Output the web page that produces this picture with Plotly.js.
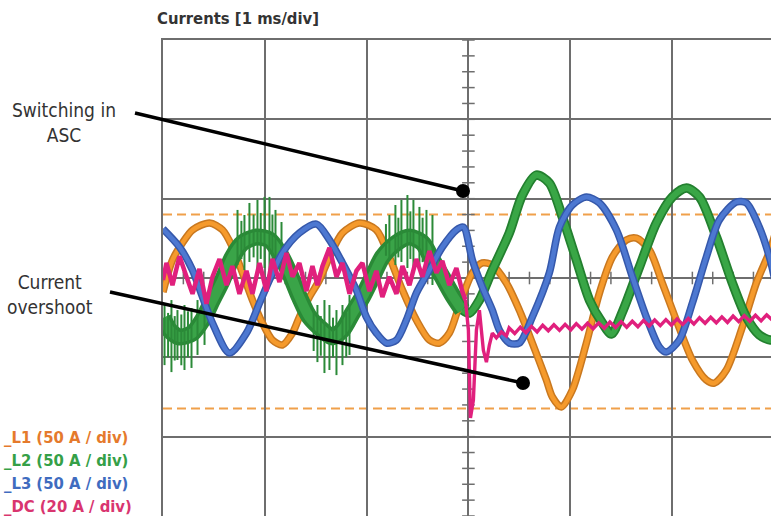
<!DOCTYPE html>
<html>
<head>
<meta charset="utf-8">
<script src="https://cdn.plot.ly/plotly-3.0.1.min.js"></script>
<style>html,body{margin:0;padding:0;background:#fff;}#chart{width:771px;height:516px;}</style>
</head>
<body>
<div id="chart"></div>
<script>
// ---- Data (time in ms, phase currents in A at 50 A/div, DC current in A at 20 A/div)
const blueT = [0.000,0.162,0.290,0.388,0.486,0.653,0.820,0.948,1.046,1.173,1.340,1.507,1.635,1.763,1.900,1.998,2.096,2.195,2.293,2.391,2.489,2.617,2.744,2.882,2.951,3.039,3.137,3.235,3.304,3.402,3.500,3.628,3.795,3.894,4.021,4.159,4.287,4.454,4.611,4.748,4.876,4.944,5.072,5.200,5.337,5.465,5.632,5.730,5.857,5.965,6.010];
const blueA = [30.9,19.5,5.0,-12.0,-28.4,-47.3,-34.7,-15.8,-1.3,15.8,28.4,34.0,24.0,9.5,-7.6,-24.6,-34.7,-41.0,-39.1,-26.5,-9.5,5.0,19.5,30.3,32.1,11.3,-5.7,-20.2,-32.8,-41.0,-41.0,-24.6,3.2,32.1,46.0,51.0,47.3,30.3,0.6,-24.6,-43.5,-46.6,-39.1,-15.8,13.2,36.6,47.9,47.3,32.1,11.3,-1.3];

const orangeT = [0.000,0.093,0.191,0.290,0.457,0.584,0.682,0.781,0.879,0.977,1.075,1.173,1.272,1.340,1.438,1.537,1.635,1.763,1.930,2.096,2.224,2.352,2.489,2.617,2.715,2.813,2.912,3.039,3.137,3.235,3.373,3.500,3.628,3.766,3.825,3.913,4.021,4.159,4.287,4.414,4.552,4.650,4.778,4.905,5.042,5.200,5.337,5.416,5.534,5.691,5.828,5.965,6.010];
const orangeA = [-8.8,11.3,22.1,30.3,34.7,30.3,19.5,3.2,-13.9,-28.4,-39.1,-42.2,-34.7,-24.6,-12.0,-1.3,13.2,28.4,34.7,30.3,13.2,-7.6,-26.5,-39.1,-41.0,-34.7,-17.0,3.2,9.5,8.2,-3.2,-20.2,-41.0,-64.3,-75.0,-81.3,-70.6,-41.0,-9.5,13.2,24.0,25.2,17.7,-3.2,-26.5,-51.7,-64.3,-66.2,-58.0,-30.9,-3.2,17.7,27.1];

const greenT = [0.000,0.064,0.162,0.290,0.388,0.486,0.584,0.682,0.781,0.918,1.046,1.144,1.242,1.340,1.438,1.566,1.664,1.763,1.861,1.959,2.057,2.155,2.293,2.421,2.548,2.647,2.744,2.843,2.941,3.010,3.108,3.235,3.402,3.530,3.667,3.795,3.923,4.061,4.189,4.316,4.405,4.513,4.680,4.847,5.004,5.142,5.270,5.436,5.593,5.730,5.857,5.965,6.020];
const greenA = [-25.2,-32.8,-37.2,-34.7,-26.5,-13.9,-1.3,13.2,22.1,25.8,24.0,15.8,3.2,-12.0,-24.6,-32.8,-37.2,-32.8,-22.1,-12.0,0.6,13.2,22.1,25.8,22.1,11.3,0.6,-10.7,-20.2,-22.1,-13.9,5.0,28.4,52.3,64.9,59.9,38.5,11.3,-13.9,-28.4,-35.3,-21.4,6.9,34.7,51.1,56.7,51.1,25.8,-3.2,-24.6,-35.9,-39.1,-38.0];

// switching-noise spikes on the green phase before ASC
const spikeT  = [0.015,0.050,0.083,0.115,0.142,0.180,0.211,0.245,0.280,0.339,0.408, 0.732,0.770,0.800,0.849,0.890,0.928,0.960,0.997,1.046,1.075,1.105,1.164, 1.480,1.517,1.550,1.586,1.635,1.670,1.704,1.763,1.800,1.832, 2.190,2.224,2.283,2.312,2.342,2.401,2.430,2.460,2.519,2.550,2.588,2.647];
const spikeHi = [-17.0,-22.0,-13.9,-24.0,-20.2,-23.0,-17.0,-21.0,-18.9,-13.9,-7.6, 42.9,36.0,39.7,47.3,40.0,49.2,41.0,51.1,51.1,40.0,42.9,35.3, -20.0,-17.0,-24.0,-13.9,-17.0,-25.0,-20.2,-17.0,-22.0,-10.7, 34.0,39.7,46.0,38.0,49.2,52.3,42.0,49.2,44.8,38.0,42.9,39.7];
const spikeLo = [-54.9,-50.0,-59.3,-52.0,-51.7,-55.0,-58.0,-50.0,-56.7,-48.5,-42.2, 8.2,12.0,5.0,10.1,13.0,5.0,12.0,6.3,1.9,10.0,5.0,-1.3, -46.0,-53.0,-49.0,-59.9,-58.0,-50.0,-61.2,-54.9,-50.0,-48.5, 14.0,11.3,8.2,13.0,10.1,6.3,12.0,5.0,6.3,10.0,1.9,-4.4];

const pinkT = [0.000,0.034,0.093,0.162,0.231,0.290,0.358,0.427,0.486,0.555,0.624,0.682,0.751,0.820,0.879,0.948,1.016,1.075,1.144,1.213,1.272,1.340,1.409,1.468,1.517,1.566,1.635,1.704,1.763,1.832,1.900,1.959,2.028,2.096,2.155,2.224,2.293,2.352,2.421,2.489,2.548,2.617,2.686,2.744,2.813,2.882,2.941,2.971,3.000,3.020,3.049,3.079,3.108,3.147,3.177,3.206,3.235,3.275,3.324,3.373,
  3.400,3.455,3.510,3.565,3.620,3.675,3.730,3.785,3.840,3.895,3.950,4.005,4.060,4.115,4.170,4.225,4.280,4.335,4.390,4.445,4.500,4.555,4.610,4.665,4.720,4.775,4.830,4.885,4.940,4.995,5.050,5.105,5.160,5.215,5.270,5.325,5.380,5.435,5.490,5.545,5.600,5.655,5.710,5.765,5.820,5.875,5.930,5.985,6.040];
const pinkA = [-0.5,3.8,-1.8,5.5,0.3,-4.0,2.3,-6.5,0.3,4.8,-1.8,3.0,-4.0,1.8,-4.0,3.8,-3.3,4.8,-1.0,6.3,0.3,3.8,-3.3,3.0,-1.8,3.0,7.6,0.3,3.8,-4.0,1.8,3.8,-3.3,1.8,-4.8,0.3,-4.0,3.0,-1.8,4.8,0.3,6.8,1.3,4.3,-1.8,2.5,-3.5,-5.5,-13.1,-35.3,-30.8,-13.1,-8.1,-18.2,-21.2,-16.9,-13.9,-15.1,-13.6,-14.6,
  -12.6,-14.0,-12.4,-13.8,-12.2,-13.6,-11.9,-13.3,-11.8,-13.2,-11.7,-13.1,-11.5,-12.9,-11.4,-12.8,-11.3,-12.7,-11.1,-12.5,-11.0,-12.4,-10.9,-12.3,-10.7,-12.1,-10.6,-12.0,-10.5,-11.9,-10.3,-11.7,-10.2,-11.6,-10.0,-11.4,-9.9,-11.3,-9.8,-11.2,-9.6,-11.0,-9.5,-10.9,-9.4,-10.8,-9.3,-10.6,-9.2];

const limitA = [40.0, -82.2];     // orange dashed reference levels
const tSwitch = 2.95;             // ASC switching instant (ms)

const legendLabels = ['_L1 (50 A / div)', '_L2 (50 A / div)', '_L3 (50 A / div)', '_DC (20 A / div)'];
const legendColors = ['#e57a2c', '#35a047', '#3f6cbf', '#d9356f'];

// ---- build traces
const gPreT = [], gPreA = [], gPostT = [], gPostA = [];
greenT.forEach((t, i) => {
  if (t <= tSwitch) { gPreT.push(t); gPreA.push(greenA[i]); }
  if (t >= tSwitch - 0.02) { gPostT.push(t); gPostA.push(greenA[i]); }
});
const pPreT = [], pPreA = [], pPostT = [], pPostA = [];
pinkT.forEach((t, i) => {
  if (t <= tSwitch + 0.03) { pPreT.push(t); pPreA.push(pinkA[i]); }
  if (t >= tSwitch + 0.02) { pPostT.push(t); pPostA.push(pinkA[i]); }
});
const spX = [], spY = [];
spikeT.forEach((t, i) => { spX.push(t, t, null); spY.push(spikeHi[i], spikeLo[i], null); });

// graticule minor ticks on the centre lines
const tickVx = [], tickVy = [], tickHx = [], tickHy = [];
for (let k = -15; k <= 15; k++) { tickVx.push(3); tickVy.push(k * 10); }
for (let k = 0; k <= 30; k++) { tickHx.push(k * 0.2); tickHy.push(0); }

const sp = {shape: 'spline', smoothing: 0.8};
const traces = [
  {x: tickVx, y: tickVy, mode: 'markers', marker: {symbol: 'line-ew', size: 9, line: {color: '#6e6e6e', width: 1.5}}, hoverinfo: 'skip'},
  {x: tickHx, y: tickHy, mode: 'markers', marker: {symbol: 'line-ns', size: 9, line: {color: '#6e6e6e', width: 1.5}}, hoverinfo: 'skip'},
  {x: orangeT, y: orangeA, mode: 'lines', line: Object.assign({color: '#c9781f', width: 7.5}, sp)},
  {x: orangeT, y: orangeA, mode: 'lines', line: Object.assign({color: '#f59a2c', width: 4.5}, sp)},
  {x: gPreT, y: gPreA, mode: 'lines', line: Object.assign({color: '#2a8a37', width: 17}, sp)},
  {x: gPreT, y: gPreA, mode: 'lines', line: Object.assign({color: '#3aa448', width: 10}, sp)},
  {x: spX, y: spY, mode: 'lines', line: {color: '#2b8a38', width: 2}},
  {x: gPostT, y: gPostA, mode: 'lines', line: Object.assign({color: '#23802f', width: 9.5}, sp)},
  {x: gPostT, y: gPostA, mode: 'lines', line: Object.assign({color: '#39a646', width: 6}, sp)},
  {x: blueT, y: blueA, mode: 'lines', line: Object.assign({color: '#3558ab', width: 7.5}, sp)},
  {x: blueT, y: blueA, mode: 'lines', line: Object.assign({color: '#4d78d1', width: 4.5}, sp)},
  {x: pPreT, y: pPreA, yaxis: 'y2', mode: 'lines', line: {color: '#e0207d', width: 4.5}},
  {x: pPostT, y: pPostA, yaxis: 'y2', mode: 'lines', line: {color: '#e0207d', width: 3.4}}
];

const fontC = '"DejaVu Sans Condensed", "Liberation Sans Narrow", "DejaVu Sans", sans-serif';
const px2x = p => (p - 163) / 608, py2y = p => (516 - p) / 476;

const annotations = [
  {xref: 'paper', yref: 'paper', x: px2x(64), y: py2y(122), text: 'Switching in<br>ASC', showarrow: false, align: 'center', xanchor: 'center', yanchor: 'middle', font: {family: fontC, size: 19, color: '#333'}},
  {xref: 'paper', yref: 'paper', x: px2x(50), y: py2y(294.5), text: 'Current<br>overshoot', showarrow: false, align: 'center', xanchor: 'center', yanchor: 'middle', font: {family: fontC, size: 19, color: '#333'}}
];
legendLabels.forEach((s, i) => {
  annotations.push({xref: 'paper', yref: 'paper', x: px2x(2), y: py2y(437 + i * 23), text: '<b>' + s + '</b>', showarrow: false, xanchor: 'left', yanchor: 'middle', font: {family: fontC, size: 16.5, color: legendColors[i]}});
});

const shapes = [];
limitA.forEach(v => shapes.push({type: 'line', xref: 'paper', yref: 'y', x0: 0, x1: 1, y0: v, y1: v, line: {color: '#f0a04a', width: 2, dash: '9px,5px'}, layer: 'below'}));
shapes.push({type: 'line', xref: 'paper', yref: 'paper', x0: px2x(135), y0: py2y(113), x1: px2x(463), y1: py2y(191), line: {color: '#000', width: 3.5}});
shapes.push({type: 'circle', xref: 'paper', yref: 'paper', x0: px2x(456), x1: px2x(470), y0: py2y(198), y1: py2y(184), fillcolor: '#000', line: {color: '#000', width: 0}});
shapes.push({type: 'line', xref: 'paper', yref: 'paper', x0: px2x(110), y0: py2y(292), x1: px2x(523), y1: py2y(383), line: {color: '#000', width: 3.5}});
shapes.push({type: 'circle', xref: 'paper', yref: 'paper', x0: px2x(516), x1: px2x(530), y0: py2y(390), y1: py2y(376), fillcolor: '#000', line: {color: '#000', width: 0}});

const grid = {showgrid: true, gridcolor: '#6e6e6e', gridwidth: 2, zeroline: false, showticklabels: false, ticks: '', fixedrange: true};
const layout = {
  width: 771, height: 516,
  margin: {l: 163, r: 0, t: 40, b: 0, pad: 0},
  paper_bgcolor: '#ffffff', plot_bgcolor: '#ffffff',
  showlegend: false,
  title: {text: '<b>Currents [1 ms/div]</b>', font: {family: fontC, size: 16.5, color: '#333'}, xref: 'container', yref: 'container', x: 157 / 771, xanchor: 'left', y: 1 - 18 / 516, yanchor: 'middle'},
  xaxis: Object.assign({range: [0, 5.9725], dtick: 1, tick0: 0, showline: true, linecolor: '#6e6e6e', linewidth: 2, mirror: true}, grid),
  yaxis: Object.assign({range: [-150, 150], dtick: 50, tick0: 0, showline: true, linecolor: '#6e6e6e', linewidth: 2}, grid),
  yaxis2: {overlaying: 'y', range: [-60, 60], showgrid: false, zeroline: false, showticklabels: false, ticks: '', showline: false, fixedrange: true},
  annotations: annotations,
  shapes: shapes
};

Plotly.newPlot('chart', traces, layout, {displayModeBar: false, staticPlot: true});
</script>
</body>
</html>
